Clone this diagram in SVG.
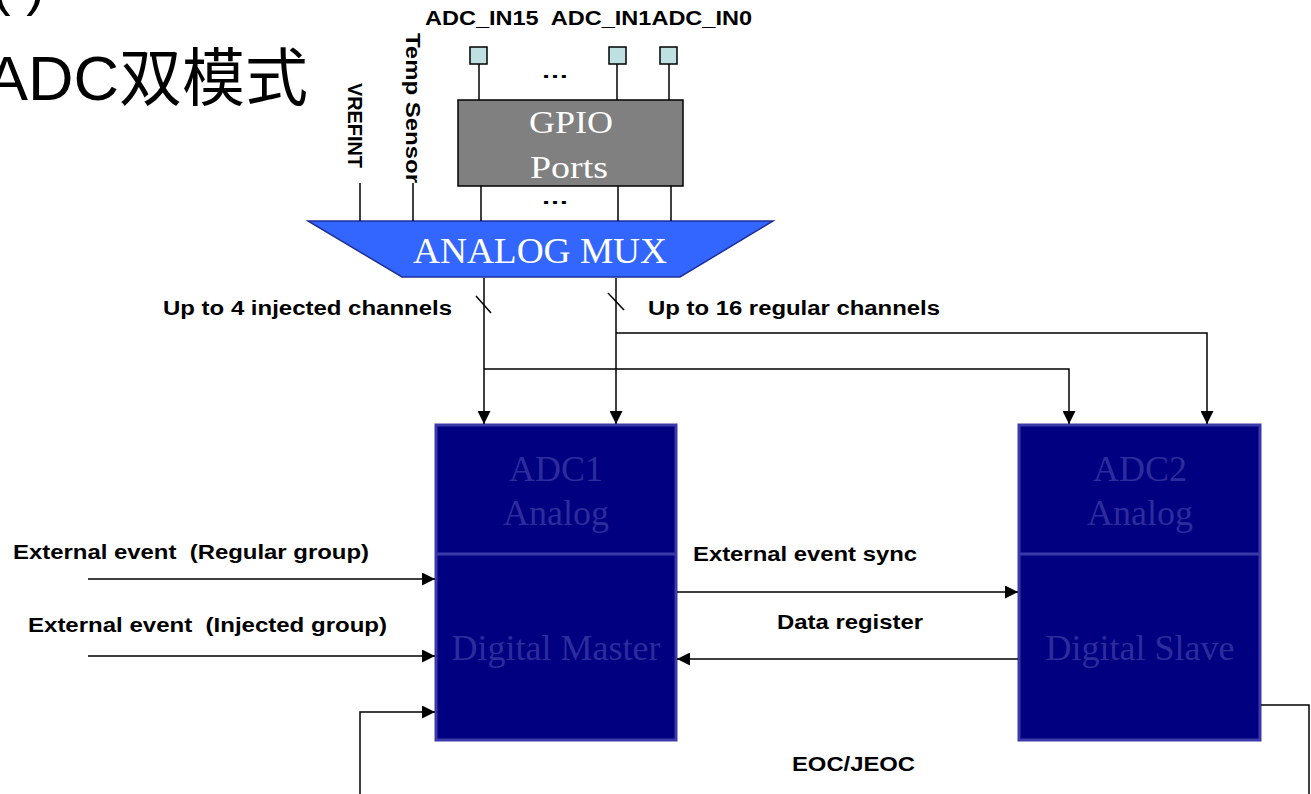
<svg xmlns="http://www.w3.org/2000/svg" width="1311" height="794" viewBox="0 0 1311 794">
<style>
.lbl{font-family:"Liberation Sans",Arial,sans-serif;font-weight:bold;font-size:20px;fill:#000}
.ser{font-family:"Liberation Serif","Times New Roman",serif}
.wire{fill:none;stroke:#000;stroke-width:1.5}
.arr{marker-end:url(#ah)}
.adc{fill:#000080;stroke:#3a3aa8;stroke-width:3}
.adct{font-family:"Liberation Serif","Times New Roman",serif;font-size:36px;fill:#2c2c9c;text-anchor:middle}
.pin{fill:#bfe0e0;stroke:#000;stroke-width:1.5}
</style>
<defs>
<marker id="ah" viewBox="0 0 10 10" refX="10" refY="5" markerWidth="13" markerHeight="13" markerUnits="userSpaceOnUse" orient="auto">
<path d="M0,0 L10,5 L0,10 z" fill="#000"/>
</marker>
</defs>
<rect width="1311" height="794" fill="#fff"/>

<g id="title">
<text x="-8" y="4" font-family="'Liberation Sans','Noto Sans CJK SC',sans-serif" font-size="56">( )</text>
<text x="-14" y="100" font-family="'Liberation Sans','Noto Sans CJK SC',sans-serif" font-size="63">ADC双模式</text>
</g>

<g id="pins">
<rect class="pin" x="470" y="47" width="17" height="17"/>
<rect class="pin" x="609" y="47" width="17" height="17"/>
<rect class="pin" x="660" y="47" width="17" height="17"/>
<text class="lbl" x="425" y="25" textLength="327" lengthAdjust="spacingAndGlyphs" xml:space="preserve">ADC_IN15  ADC_IN1ADC_IN0</text>
<text class="lbl" x="541" y="78" font-size="30" textLength="28" lengthAdjust="spacingAndGlyphs">…</text>
<text class="lbl" x="541" y="204" font-size="30" textLength="28" lengthAdjust="spacingAndGlyphs">…</text>
</g>

<g id="gpio">
<rect x="458" y="100" width="225" height="86" fill="#808080" stroke="#000" stroke-width="1.5"/>
<text class="ser" x="529" y="133" font-size="32" fill="#fff" textLength="84" lengthAdjust="spacingAndGlyphs">GPIO</text>
<text class="ser" x="530" y="178" font-size="32" fill="#fff" textLength="78" lengthAdjust="spacingAndGlyphs">Ports</text>
</g>

<g id="internal">
<text class="lbl" transform="translate(348,83) rotate(90)" textLength="85" lengthAdjust="spacingAndGlyphs">VREFINT</text>
<text class="lbl" transform="translate(406,33) rotate(90)" textLength="150" lengthAdjust="spacingAndGlyphs">Temp Sensor</text>
</g>

<g id="mux">
<polygon points="308,221 773,221 680,277 402,277" fill="#3366ff" stroke="#1f2f9a" stroke-width="1.5"/>
<text class="ser" x="540" y="263" font-size="36" fill="#fff" text-anchor="middle" textLength="254" lengthAdjust="spacingAndGlyphs">ANALOG MUX</text>
</g>

<g id="adc1">
<rect class="adc" x="436" y="425" width="240" height="315"/>
<line x1="436" y1="554" x2="676" y2="554" stroke="#3a3aa8" stroke-width="3"/>
<text class="adct" x="556" y="481">ADC1</text>
<text class="adct" x="556" y="525">Analog</text>
<text class="adct" x="556" y="660">Digital Master</text>
</g>

<g id="adc2">
<rect class="adc" x="1019" y="425" width="241" height="315"/>
<line x1="1019" y1="554" x2="1260" y2="554" stroke="#3a3aa8" stroke-width="3"/>
<text class="adct" x="1140" y="481">ADC2</text>
<text class="adct" x="1140" y="525">Analog</text>
<text class="adct" x="1140" y="660">Digital Slave</text>
</g>

<g id="connectors">
<line class="wire" x1="479" y1="64" x2="479" y2="100"/>
<line class="wire" x1="617" y1="64" x2="617" y2="100"/>
<line class="wire" x1="669" y1="64" x2="669" y2="100"/>
<line class="wire" x1="360" y1="183" x2="360" y2="221"/>
<line class="wire" x1="413" y1="183" x2="413" y2="221"/>
<line class="wire" x1="481" y1="186" x2="481" y2="221"/>
<line class="wire" x1="618" y1="186" x2="618" y2="221"/>
<line class="wire" x1="671" y1="186" x2="671" y2="221"/>

<line class="wire arr" x1="484" y1="278" x2="484" y2="424"/>
<line class="wire arr" x1="616" y1="278" x2="616" y2="424"/>
<polyline class="wire arr" points="484,369 1069,369 1069,424"/>
<polyline class="wire arr" points="616,333 1207,333 1207,424"/>
<line class="wire" x1="476" y1="296" x2="491" y2="313"/>
<line class="wire" x1="608" y1="293" x2="624" y2="310"/>

<line class="wire arr" x1="88" y1="579" x2="435" y2="579"/>
<line class="wire arr" x1="88" y1="656" x2="435" y2="656"/>
<polyline class="wire arr" points="360,794 360,712 435,712"/>
<line class="wire arr" x1="677" y1="592" x2="1018" y2="592"/>
<line class="wire arr" x1="1018" y1="659" x2="677" y2="659"/>
<polyline class="wire" points="1261,705 1309,705 1309,794"/>
</g>

<g id="labels">
<text class="lbl" x="163" y="315" textLength="289" lengthAdjust="spacingAndGlyphs">Up to 4 injected channels</text>
<text class="lbl" x="648" y="315" textLength="292" lengthAdjust="spacingAndGlyphs">Up to 16 regular channels</text>
<text class="lbl" x="13" y="559" textLength="356" lengthAdjust="spacingAndGlyphs" xml:space="preserve">External event  (Regular group)</text>
<text class="lbl" x="28" y="632" textLength="359" lengthAdjust="spacingAndGlyphs" xml:space="preserve">External event  (Injected group)</text>
<text class="lbl" x="693" y="561" textLength="224" lengthAdjust="spacingAndGlyphs">External event sync</text>
<text class="lbl" x="777" y="629" textLength="146" lengthAdjust="spacingAndGlyphs">Data register</text>
<text class="lbl" x="792" y="771" textLength="123" lengthAdjust="spacingAndGlyphs">EOC/JEOC</text>
</g>
</svg>
